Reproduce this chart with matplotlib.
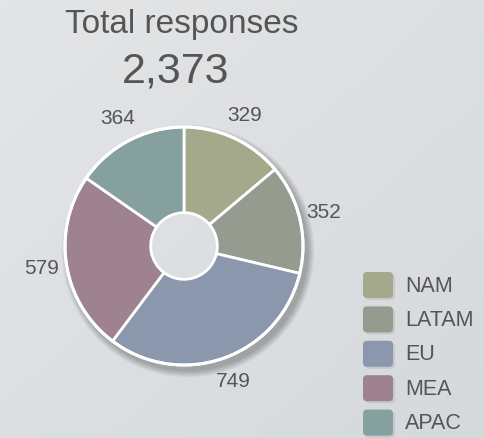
import numpy as np
import matplotlib
matplotlib.use('Agg')
import matplotlib.pyplot as plt
from matplotlib.patches import Wedge, Circle, FancyBboxPatch

regions = ['NAM', 'LATAM', 'EU', 'MEA', 'APAC']
responses = [329, 352, 749, 579, 364]
colors = ['#a3a98a', '#959b8e', '#8a97ad', '#9e828f', '#86a0a0']
total = sum(responses)

plt.rcParams['font.family'] = ['Liberation Sans', 'DejaVu Sans']
textColor = '#555555'
H = 438

fig = plt.figure(figsize=(4.84, 4.38), dpi=100)
fig.patch.set_facecolor('#dcdfe2')
ax = fig.add_axes([0, 0, 1, 1])
ax.set_xlim(0, 484)
ax.set_ylim(0, H)
ax.set_aspect('equal')
ax.axis('off')

# soft background gradient, lighter at top left
gx, gy = np.meshgrid(np.linspace(0, 1, 50), np.linspace(0, 1, 50))
grad = (gx + gy) / 2
bgmap = matplotlib.colors.LinearSegmentedColormap.from_list('bg', ['#e3e5e7', '#d6d9dc'])
ax.imshow(grad, extent=(0, 484, 0, H), origin='upper', cmap=bgmap, zorder=0, aspect='auto')

cx, cy, r = 184, H - 246, 119
ringw = r * 0.72

# shadow (ring only, so the hole stays clean)
for i in range(8):
    ax.add_patch(Wedge((cx + 4, cy - 5), r + 1 + i * 0.9, 0, 360, width=ringw * 0.6 + i * 0.9,
                       color='black', alpha=0.035, lw=0, zorder=1))

wedges, texts = ax.pie(responses, colors=colors, startangle=90, counterclock=False,
                       center=(cx, cy), radius=r, labels=[f'{v}' for v in responses],
                       labeldistance=1.21, wedgeprops=dict(width=ringw, edgecolor='white', linewidth=2),
                       textprops=dict(fontsize=15, color=textColor))
for w in wedges:
    w.set_zorder(2)
for t in texts:
    t.set_ha('center')
    t.set_va('center')
ax.add_patch(Circle((cx, cy), r, fill=False, ec='white', lw=2.2, zorder=3))
ax.set_xlim(0, 484)
ax.set_ylim(0, H)

ax.text(182, H - 33, 'Total responses', fontsize=24, color=textColor, ha='center', va='baseline')
ax.text(176, H - 82, f'{total:,}', fontsize=31, color=textColor, ha='center', va='baseline')

# legend
for i, (name, c) in enumerate(zip(regions, colors)):
    top = 272 + i * 34.4
    ax.add_patch(FancyBboxPatch((365, H - top - 28), 30, 26, boxstyle='round,pad=0,rounding_size=4',
                                fc='black', alpha=0.08, lw=0, zorder=1))
    ax.add_patch(FancyBboxPatch((363, H - top - 26), 30, 26, boxstyle='round,pad=0,rounding_size=4',
                                fc=c, lw=0, zorder=2))
    ax.text(405, H - top - 14, name, fontsize=15.5, color=textColor, ha='left', va='center')

plt.savefig('out.png', dpi=100, facecolor=fig.get_facecolor())
